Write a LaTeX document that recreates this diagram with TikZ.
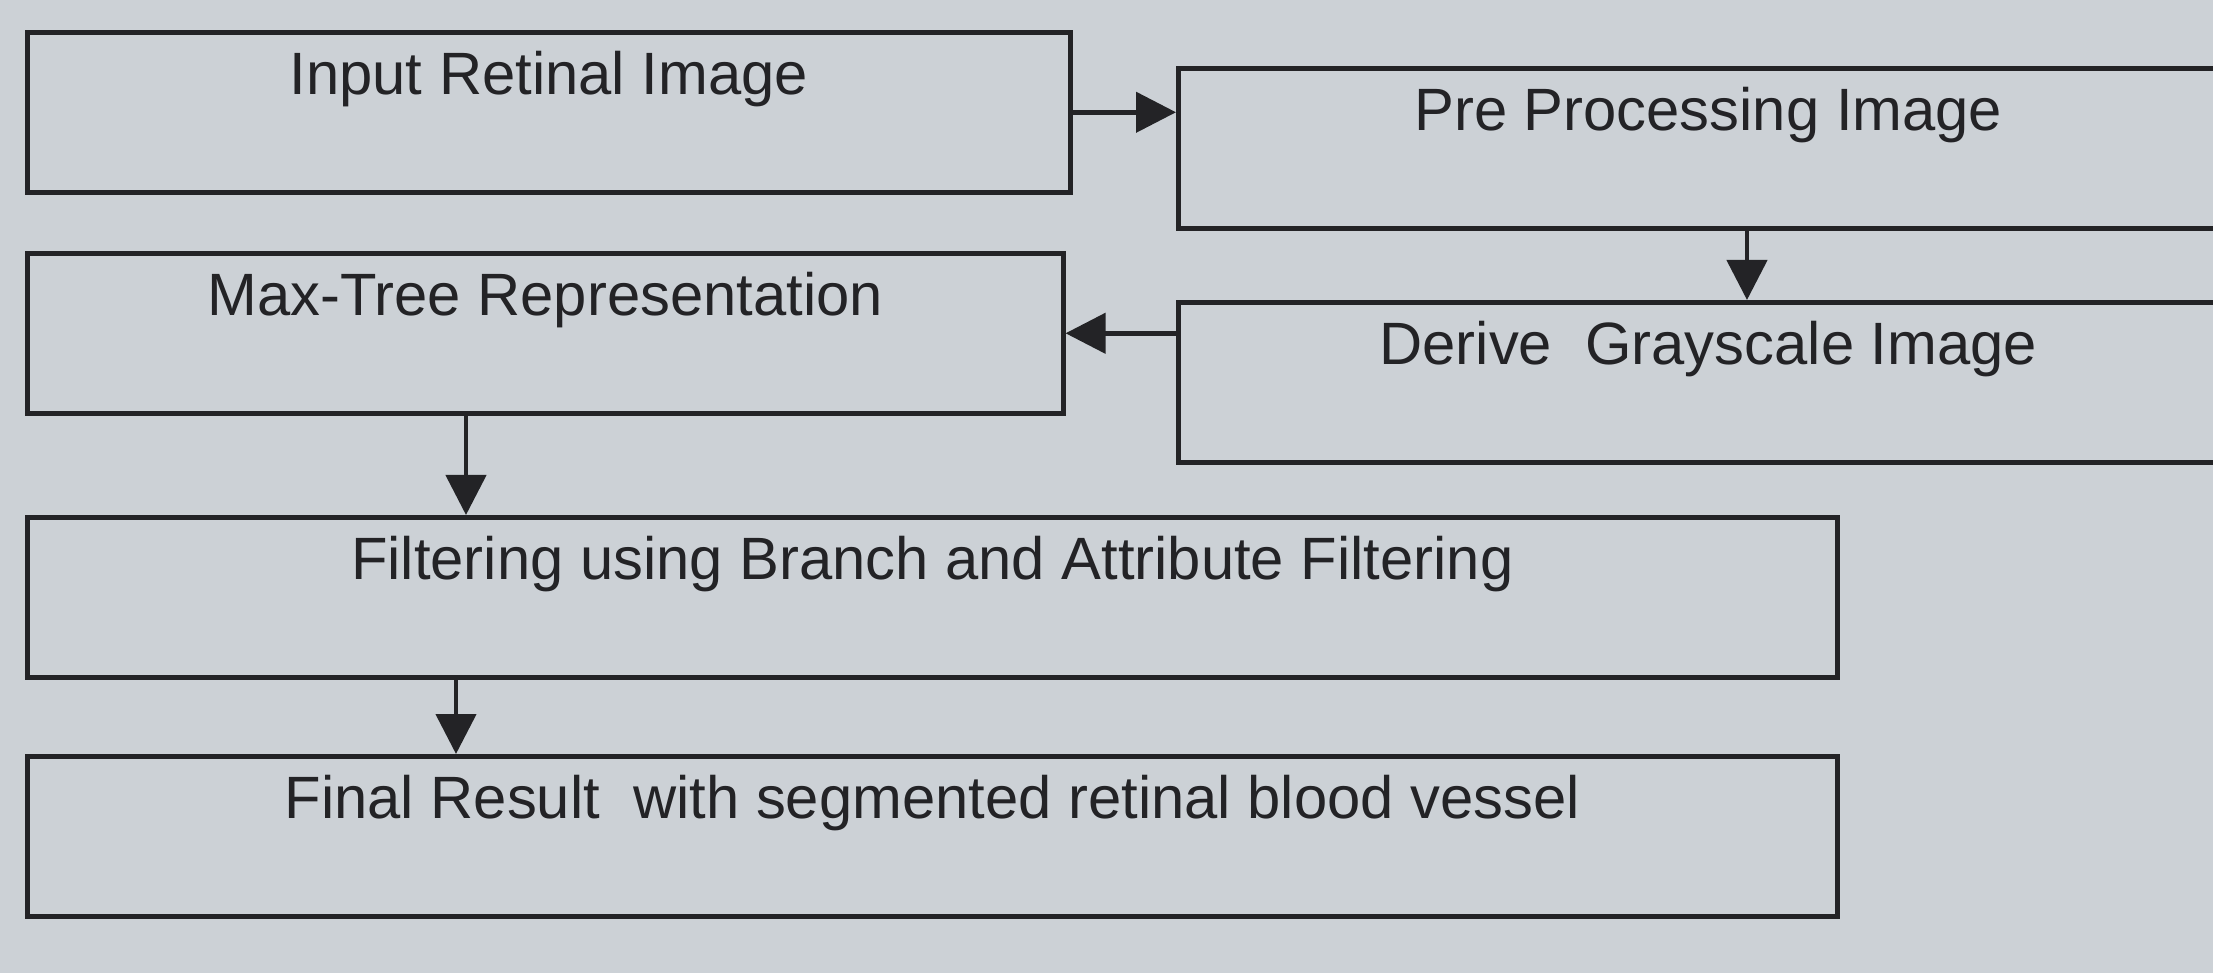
\documentclass[tikz,border=0pt]{standalone}
\usepackage{fontspec}
\setmainfont{Liberation Sans}
\usetikzlibrary{arrows.meta}
\definecolor{paper}{RGB}{204,209,214}
\definecolor{ink}{RGB}{35,35,38}
\tikzset{
	stage/.style={draw=ink, line width=1.3pt, anchor=north west, inner sep=0pt,
		text height=0.62cm, text depth=0.98cm, font=\fontsize{17}{20}\selectfont, text=ink},
	flow/.style={draw=ink, line width=1.3pt, -{Stealth[inset=0pt,length=4mm,width=4mm]}}
}
\begin{document}
\begin{tikzpicture}
		
		\clip (0,-9.73) rectangle (22.13,0);
		\fill[paper] (0,-9.73) rectangle (22.13,0);
		
		\node[stage, minimum width=10.43cm] (input) at (0.25,-0.30) {Input Retinal Image};
		\node[stage, minimum width=10.6cm] (prep) at (11.76,-0.66) {Pre Processing Image};
		\node[stage, minimum width=10.36cm] (maxtree) at (0.25,-2.51) {Max-Tree Representation};
		\node[stage, minimum width=10.6cm] (gray) at (11.76,-3.00) {Derive~ Grayscale Image};
		\node[stage, minimum width=18.1cm] (filter) at (0.25,-5.15) {Filtering using Branch and Attribute Filtering};
		\node[stage, minimum width=18.1cm] (result) at (0.25,-7.54) {Final Result~ with segmented retinal blood vessel};
		
		\coordinate (p1) at ([xshift=5.71cm]prep.south west);
		\coordinate (m1) at ([xshift=4.41cm]maxtree.south west);
		\coordinate (f1) at ([xshift=4.31cm]filter.south west);
		
		\draw[flow] (input.east) -- (input.east -| prep.west);
		\draw[flow] (p1) -- (p1 |- gray.north);
		\draw[flow] (maxtree.east -| gray.west) -- (maxtree.east);
		\draw[flow] (m1) -- (m1 |- filter.north);
		\draw[flow] (f1) -- (f1 |- result.north);
		
	\end{tikzpicture}
\end{document}
